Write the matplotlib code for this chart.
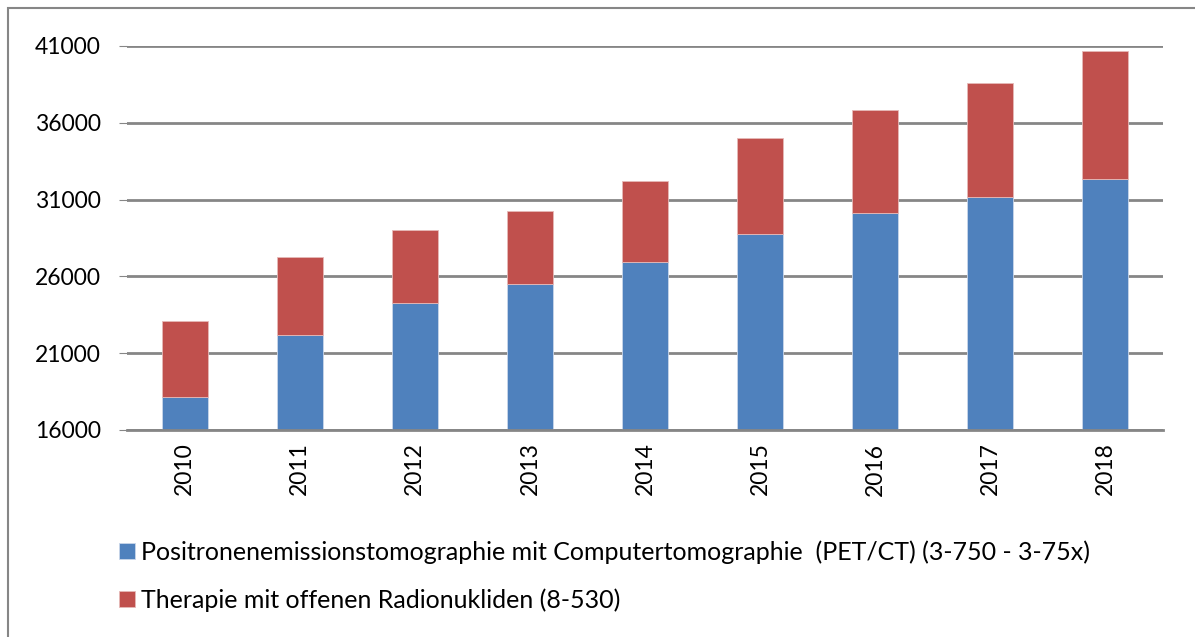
import matplotlib.pyplot as plt
import numpy as np
from matplotlib.patches import Rectangle

# Daten
jahre = ["2010", "2011", "2012", "2013", "2014", "2015", "2016", "2017", "2018"]
pet_ct = [18150, 22170, 24280, 25500, 26970, 28760, 30125, 31145, 32345]
gesamt = [23105, 27260, 29020, 30255, 32210, 35015, 36815, 38600, 40650]
therapie = [g - p for g, p in zip(gesamt, pet_ct)]

label_pet = "Positronenemissionstomographie mit Computertomographie  (PET/CT) (3-750 - 3-75x)"
label_ther = "Therapie mit offenen Radionukliden (8-530)"

plt.rcParams["font.family"] = ["Lato", "DejaVu Sans"]

fig = plt.figure(figsize=(11.95, 6.37), dpi=100)
ax = fig.add_axes([127 / 1195, 1 - 430 / 637, 1036 / 1195, 384 / 637])

x = np.arange(len(jahre))
b1 = ax.bar(x, np.array(pet_ct) - 16000, bottom=16000, width=0.4,
            color="#4f81bd", edgecolor="#c9d6ea", linewidth=0.6, label=label_pet, zorder=3)
b2 = ax.bar(x, therapie, bottom=pet_ct, width=0.4,
            color="#c0504d", edgecolor="#e6b9b8", linewidth=0.6, label=label_ther, zorder=3)

ax.set_xlim(-0.5, len(jahre) - 0.5)
ax.set_ylim(16000, 41000)
ax.set_yticks(range(16000, 41001, 5000))
ax.set_xticks(x)
ax.set_xticklabels(jahre, rotation=90, fontsize=16.5)
ax.tick_params(axis="y", labelsize=16.5, length=6, color="#868686", pad=13)
ax.tick_params(axis="x", length=0, pad=9)
ax.grid(axis="y", color="#868686", linewidth=2, zorder=0)

for s in ["top", "right", "left"]:
    ax.spines[s].set_visible(False)
ax.spines["bottom"].set_color("#868686")
ax.spines["bottom"].set_linewidth(2)
ax.spines["bottom"].set_zorder(4)

# Legende unten, untereinander
fig.legend(handles=[b1, b2], loc="upper left", bbox_to_anchor=(109 / 1195, 1 - 530 / 637),
           frameon=False, fontsize=18, handlelength=0.62, handleheight=0.62,
           handletextpad=0.25, labelspacing=1.0, borderaxespad=0)

# Rahmen um das Diagramm
fig.patches.append(Rectangle((8 / 1195, -0.1), 1.2, 1.1 - 8 / 637, transform=fig.transFigure,
                             fill=False, edgecolor="#868686", linewidth=1.5))

fig.savefig("out.png", dpi=100)
